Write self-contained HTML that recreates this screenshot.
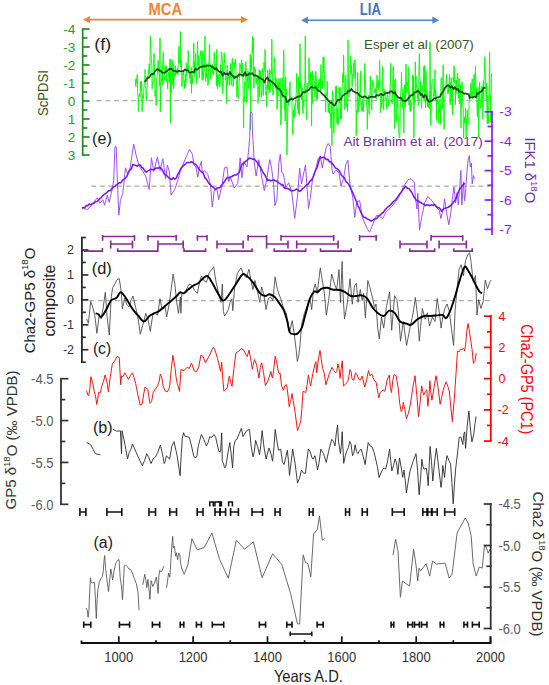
<!DOCTYPE html>
<html><head><meta charset="utf-8"><style>html,body{margin:0;padding:0;background:#fff;width:549px;height:685px;overflow:hidden}svg{display:block}text{font-family:"Liberation Sans",sans-serif}</style></head>
<body><svg width="549" height="685" viewBox="0 0 549 685" font-family='"Liberation Sans", sans-serif'><line x1="86" y1="19.7" x2="245" y2="19.7" stroke="#F08535" stroke-width="1.7"/><path d="M248,19.7 L241,16.099999999999998 L241,23.3 Z" fill="#F08535"/><path d="M83,19.7 L90,16.099999999999998 L90,23.3 Z" fill="#F08535"/>
<text x="165.3" y="14.8" font-size="15.8" fill="#F08535" text-anchor="middle" font-weight="bold" textLength="33.6" lengthAdjust="spacingAndGlyphs">MCA</text>
<line x1="304" y1="20.2" x2="436.3" y2="20.2" stroke="#5585C2" stroke-width="1.5"/><path d="M439.3,20.2 L432.3,16.599999999999998 L432.3,23.8 Z" fill="#5585C2"/><path d="M301,20.2 L308,16.599999999999998 L308,23.8 Z" fill="#5585C2"/>
<text x="370.4" y="15.1" font-size="17" fill="#4472C4" text-anchor="middle" font-weight="bold" textLength="21.1" lengthAdjust="spacingAndGlyphs">LIA</text>
<line x1="96.8" y1="100.6" x2="490" y2="100.6" stroke="#ABABAB" stroke-width="1.25" stroke-dasharray="5,3.6"/>
<text x="343.4" y="146.1" font-size="13.2" fill="#7030A0" text-anchor="start" font-weight="normal" textLength="139.5" lengthAdjust="spacingAndGlyphs">Ait Brahim et al. (2017)</text>
<text x="364.0" y="48.6" font-size="13.5" fill="#385723" text-anchor="start" font-weight="normal" textLength="109.8" lengthAdjust="spacingAndGlyphs">Esper et al. (2007)</text>
<path d="M135.4,79.5 L135.8,86.6 L136.1,78.4 L136.5,83.1 L136.9,77.6 L137.3,74.4 L137.6,92.5 L138.0,97.8 L138.4,111.5 L138.7,98.7 L139.1,95.0 L139.5,93.6 L139.9,93.9 L140.2,97.1 L140.6,81.5 L141.0,91.1 L141.3,80.9 L141.7,86.2 L142.1,111.7 L142.5,101.4 L142.8,94.6 L143.2,98.0 L143.6,95.8 L143.9,87.2 L144.3,81.8 L144.7,82.4 L145.1,69.3 L145.4,87.0 L145.8,88.6 L146.2,99.8 L146.6,100.8 L146.9,90.7 L147.3,83.9 L147.7,79.2 L148.0,75.3 L148.4,69.6 L148.8,74.6 L149.2,63.9 L149.5,70.3 L149.9,73.0 L150.3,36.0 L150.6,36.4 L151.0,52.3 L151.4,59.3 L151.8,65.6 L152.1,88.9 L152.5,85.5 L152.9,81.4 L153.2,68.2 L153.6,63.7 L154.0,53.1 L154.4,63.8 L154.7,81.4 L155.1,96.3 L155.5,90.2 L155.8,97.3 L156.2,105.6 L156.6,80.3 L157.0,77.1 L157.3,74.8 L157.7,69.1 L158.1,60.3 L158.4,62.8 L158.8,72.8 L159.2,73.2 L159.6,85.9 L160.0,38.0 L160.3,111.7 L160.7,83.9 L161.0,81.1 L161.4,81.3 L161.8,75.8 L162.2,65.2 L162.5,84.9 L162.9,57.4 L163.3,51.7 L163.6,61.6 L164.0,70.2 L164.4,80.4 L164.8,80.6 L165.1,66.2 L165.5,72.4 L165.9,71.8 L166.3,65.9 L166.6,79.8 L167.0,82.1 L167.4,79.3 L167.7,88.8 L168.1,76.9 L168.5,74.1 L168.9,71.7 L169.2,82.7 L169.6,72.1 L170.0,59.2 L170.4,123.3 L170.7,59.2 L171.1,92.8 L171.5,85.6 L171.8,71.1 L172.2,59.9 L172.6,74.9 L172.9,85.0 L173.3,63.7 L173.7,89.1 L174.1,73.0 L174.4,76.9 L174.8,74.3 L175.2,65.3 L175.5,75.2 L175.9,69.7 L176.3,73.2 L176.7,70.5 L177.0,73.6 L177.4,67.8 L177.8,75.3 L178.1,64.0 L178.5,63.3 L178.9,46.4 L179.3,63.3 L179.6,59.4 L180.0,63.3 L180.4,31.6 L180.7,67.1 L181.1,60.2 L181.5,63.6 L181.9,86.7 L182.2,82.8 L182.6,80.3 L183.0,72.4 L183.3,74.8 L183.7,71.9 L184.1,88.9 L184.5,87.4 L184.8,80.6 L185.2,87.8 L185.6,74.6 L186.0,82.8 L186.3,62.7 L186.7,75.7 L187.1,66.7 L187.4,70.3 L187.8,70.4 L188.2,50.6 L188.6,61.4 L188.9,72.3 L189.3,72.3 L189.7,78.1 L190.0,73.4 L190.4,82.1 L190.8,83.4 L191.2,67.0 L191.5,93.3 L191.9,75.3 L192.3,78.4 L192.6,83.5 L193.0,69.0 L193.4,60.7 L193.8,43.0 L194.1,68.1 L194.5,61.5 L194.9,76.8 L195.2,63.4 L195.6,53.3 L196.0,66.7 L196.4,74.9 L196.7,83.6 L197.1,63.0 L197.5,41.2 L197.8,52.7 L198.2,66.3 L198.6,55.6 L199.0,72.2 L199.3,78.0 L199.7,70.1 L200.1,56.6 L200.4,56.7 L200.8,50.4 L201.2,55.7 L201.6,59.5 L201.9,75.4 L202.3,80.4 L202.7,50.9 L203.0,63.8 L203.4,79.4 L203.8,73.0 L204.2,67.0 L204.5,62.6 L205.0,36.0 L205.3,74.9 L205.7,81.6 L206.0,73.7 L206.4,77.3 L206.8,63.4 L207.1,72.9 L207.5,74.0 L207.9,85.3 L208.3,84.9 L208.6,63.1 L209.0,63.4 L209.4,44.3 L209.7,45.3 L210.1,79.3 L210.5,77.6 L210.9,68.4 L211.2,67.4 L211.6,72.4 L212.0,71.4 L212.3,63.8 L212.7,73.3 L213.1,71.4 L213.5,75.2 L213.8,70.6 L214.2,52.4 L214.6,60.2 L214.9,66.9 L215.3,70.0 L215.7,64.1 L216.1,64.4 L216.4,85.8 L216.8,49.3 L217.2,85.8 L217.5,89.1 L217.9,74.6 L218.3,84.6 L218.7,77.1 L219.0,73.9 L219.4,78.7 L219.8,87.2 L220.1,82.5 L220.5,64.7 L220.9,72.7 L221.3,51.8 L221.6,52.0 L222.0,55.2 L222.4,63.4 L222.7,93.6 L223.1,88.6 L223.5,71.1 L223.9,66.4 L224.2,52.6 L224.6,63.1 L225.0,64.7 L225.4,80.2 L225.7,77.9 L226.1,79.1 L226.5,103.4 L226.8,80.7 L227.2,64.8 L227.6,85.2 L228.0,79.1 L228.3,78.7 L228.7,75.8 L229.1,74.2 L229.4,85.3 L229.8,75.9 L230.2,78.4 L230.6,63.4 L230.9,64.5 L231.3,85.3 L231.7,79.5 L232.0,62.0 L232.4,58.2 L232.8,74.3 L233.2,86.6 L233.5,79.3 L233.9,76.4 L234.3,62.4 L234.6,67.5 L235.0,64.4 L235.4,58.9 L235.8,67.4 L236.1,74.0 L236.5,85.7 L236.9,96.8 L237.2,86.4 L237.6,77.6 L238.0,98.5 L238.4,97.9 L238.7,94.9 L239.1,83.5 L239.5,77.0 L239.8,63.3 L240.2,64.5 L240.6,66.2 L241.0,71.4 L241.3,76.5 L241.7,59.9 L242.1,73.0 L242.4,63.5 L242.8,63.2 L243.2,96.6 L243.6,128.0 L243.9,97.6 L244.3,101.5 L244.7,82.2 L245.1,85.1 L245.4,66.3 L245.8,61.5 L246.2,68.0 L246.5,102.5 L246.9,92.1 L247.3,84.0 L247.7,75.3 L248.0,70.9 L248.4,86.9 L248.8,89.1 L249.1,72.5 L249.5,82.3 L249.9,77.3 L250.3,54.0 L250.5,130.0 L251.0,56.9 L251.4,57.4 L251.7,69.5 L252.1,52.0 L252.5,36.0 L252.9,53.3 L253.2,37.7 L253.6,75.1 L254.0,88.2 L254.3,69.2 L254.7,66.8 L255.1,71.7 L255.5,69.0 L255.8,80.9 L256.2,83.3 L256.6,78.4 L256.9,83.7 L257.3,76.3 L257.7,80.9 L258.1,103.4 L258.4,76.7 L258.8,80.4 L259.2,69.6 L259.5,96.9 L259.9,77.6 L260.3,70.6 L260.7,83.2 L261.0,86.4 L261.4,97.4 L261.8,96.5 L262.1,74.9 L262.5,68.1 L262.9,75.8 L263.3,95.4 L263.6,84.4 L264.0,62.0 L264.4,65.1 L264.8,70.7 L265.1,49.5 L265.5,77.6 L265.9,95.1 L266.2,91.7 L266.6,106.8 L267.0,84.9 L267.4,89.7 L267.7,69.8 L268.1,75.8 L268.5,89.2 L268.8,78.4 L269.2,93.2 L269.6,68.9 L270.0,92.0 L270.3,81.6 L270.7,85.4 L271.1,70.8 L271.4,74.0 L271.8,39.2 L272.2,64.5 L272.6,86.5 L272.9,95.0 L273.3,93.3 L273.7,89.9 L274.0,79.2 L274.4,57.6 L274.8,57.1 L275.2,74.8 L275.5,88.6 L275.9,79.8 L276.3,78.0 L276.6,92.7 L277.0,109.4 L277.4,104.7 L277.8,82.8 L278.1,95.9 L278.5,86.2 L278.9,78.5 L279.2,85.1 L279.6,91.6 L280.0,78.7 L280.4,78.7 L280.7,125.0 L281.1,123.6 L281.5,109.2 L281.8,97.1 L282.2,77.7 L282.6,81.5 L283.0,97.5 L283.3,68.9 L283.7,50.2 L284.1,67.0 L284.5,110.7 L284.8,101.5 L285.2,121.1 L285.6,76.7 L285.9,94.6 L286.3,89.2 L286.7,117.5 L286.9,155.0 L287.4,129.9 L287.8,107.3 L288.2,102.6 L288.5,99.5 L288.9,105.0 L289.3,99.8 L289.7,87.2 L290.0,81.5 L290.4,100.2 L290.8,98.8 L291.1,97.5 L291.5,100.0 L291.9,96.7 L292.3,119.7 L292.6,125.5 L293.0,134.6 L293.4,110.3 L293.7,109.8 L294.1,116.9 L294.5,105.5 L294.9,117.6 L295.2,103.4 L295.6,105.3 L296.0,96.0 L296.3,90.8 L296.7,73.5 L297.1,90.7 L297.5,108.9 L297.8,101.9 L298.2,113.5 L298.6,76.7 L298.9,99.2 L299.3,114.7 L299.7,89.3 L300.0,44.0 L300.4,88.5 L300.8,81.6 L301.2,87.5 L301.5,99.8 L301.9,88.1 L302.3,87.6 L302.7,108.0 L303.0,113.7 L303.4,100.2 L303.8,106.0 L304.2,90.9 L304.5,87.3 L304.9,80.7 L305.3,36.0 L305.6,83.2 L306.0,98.9 L306.4,118.2 L306.8,119.5 L307.1,83.2 L307.5,93.0 L307.9,86.3 L308.2,86.2 L308.6,86.6 L309.0,57.9 L309.4,74.1 L309.7,80.4 L310.1,84.6 L310.5,72.7 L310.8,85.5 L311.2,72.1 L311.6,125.8 L312.0,84.9 L312.3,103.5 L312.7,70.9 L313.1,80.0 L313.4,75.8 L313.8,75.0 L314.2,80.3 L314.6,91.2 L314.9,97.4 L315.3,97.5 L315.7,71.3 L316.0,73.5 L316.4,81.2 L316.8,100.2 L317.2,85.3 L317.5,99.0 L317.9,84.1 L318.3,90.0 L318.6,83.9 L319.0,79.2 L319.4,86.3 L319.8,84.7 L320.1,78.4 L320.5,92.5 L320.9,64.8 L321.2,84.8 L321.6,80.7 L322.0,80.9 L322.4,88.7 L322.7,73.7 L323.1,57.1 L323.5,73.1 L323.9,56.8 L324.2,69.1 L324.6,79.9 L325.0,92.6 L325.3,99.0 L325.7,112.1 L326.1,93.2 L326.5,95.9 L326.8,94.8 L327.2,81.3 L327.6,96.2 L327.9,100.0 L328.3,112.5 L328.7,103.7 L329.1,109.9 L329.4,113.1 L329.8,101.7 L330.2,113.8 L330.5,113.0 L330.9,127.9 L331.3,117.9 L331.7,101.0 L331.9,145.5 L332.4,95.6 L332.8,90.5 L333.1,95.5 L333.5,114.6 L333.9,133.1 L334.3,112.9 L334.6,113.8 L335.0,103.9 L335.4,101.1 L335.7,86.4 L336.1,100.5 L336.5,85.8 L336.9,123.3 L337.2,108.5 L337.6,118.9 L338.0,125.3 L338.3,117.8 L338.7,122.8 L339.1,87.2 L339.5,101.7 L339.8,103.6 L340.2,87.4 L340.6,118.8 L341.0,111.5 L341.3,119.2 L341.7,101.0 L342.1,90.8 L342.4,83.2 L342.8,73.2 L343.2,82.7 L343.6,55.2 L343.9,70.7 L344.3,92.4 L344.7,109.7 L345.0,105.4 L345.4,75.5 L345.8,74.7 L346.2,84.6 L346.5,106.9 L346.9,103.8 L347.3,104.1 L347.6,111.4 L348.0,40.0 L348.4,79.8 L348.8,91.9 L349.1,96.9 L349.5,90.2 L349.9,71.0 L350.2,71.7 L350.6,56.3 L351.0,74.2 L351.4,65.3 L351.7,69.9 L352.1,87.2 L352.5,76.2 L352.8,74.7 L353.2,76.0 L353.6,63.1 L354.0,78.0 L354.3,66.1 L354.7,59.9 L355.1,60.3 L355.4,67.5 L355.8,87.5 L356.2,135.6 L356.6,124.5 L356.9,110.6 L357.3,113.0 L357.7,72.6 L358.0,91.5 L358.4,112.3 L358.8,101.7 L359.2,96.0 L359.5,92.2 L359.9,106.6 L360.3,87.6 L360.7,71.1 L361.0,100.4 L361.4,101.2 L361.8,111.4 L362.1,108.8 L362.5,110.7 L362.9,98.3 L363.3,111.6 L363.6,110.3 L364.0,96.4 L364.4,91.9 L364.7,63.3 L365.1,71.7 L365.5,83.0 L365.9,93.8 L366.2,98.3 L366.6,104.4 L367.0,108.6 L367.3,129.4 L367.7,113.0 L368.1,97.3 L368.5,104.6 L368.8,94.9 L369.2,114.1 L369.6,98.6 L369.9,97.4 L370.3,76.2 L370.7,89.6 L371.1,87.4 L371.4,106.2 L371.8,110.2 L372.2,88.8 L372.5,79.8 L372.9,86.9 L373.3,85.9 L373.7,86.3 L374.0,89.2 L374.4,93.0 L374.8,91.8 L375.1,89.6 L375.5,88.5 L375.9,97.9 L376.3,99.1 L376.6,86.9 L377.0,75.2 L377.4,86.1 L377.7,87.9 L378.1,82.3 L378.5,90.3 L378.9,79.9 L379.2,86.1 L379.6,60.4 L380.0,76.5 L380.4,112.7 L380.7,109.4 L381.1,98.0 L381.5,94.3 L381.8,107.7 L382.2,95.4 L382.6,66.4 L383.0,74.2 L383.3,96.1 L383.7,110.0 L384.1,88.9 L384.4,94.0 L384.8,91.6 L385.2,96.3 L385.6,96.8 L385.9,99.7 L386.3,98.4 L386.7,109.0 L387.0,98.0 L387.4,93.0 L387.8,95.6 L388.2,100.1 L388.5,106.0 L388.9,100.3 L389.3,96.0 L389.6,94.6 L390.0,87.6 L390.4,80.8 L390.8,63.2 L391.1,102.2 L391.5,99.9 L391.9,100.6 L392.2,103.7 L392.6,88.6 L393.0,67.3 L393.4,66.3 L393.7,95.0 L394.1,80.2 L394.5,103.5 L394.8,128.7 L395.2,82.6 L395.6,78.7 L396.0,111.9 L396.3,122.3 L396.7,113.8 L397.1,97.1 L397.4,108.2 L397.8,102.0 L398.2,119.1 L398.6,119.2 L398.9,133.3 L399.3,138.0 L399.7,138.0 L400.1,123.2 L400.4,100.0 L400.8,91.2 L401.2,87.4 L401.5,72.5 L401.9,90.0 L402.3,93.9 L402.7,108.2 L403.0,88.8 L403.4,108.7 L403.8,133.1 L404.1,117.0 L404.5,85.1 L404.9,87.0 L405.3,107.3 L405.6,80.1 L406.0,64.1 L406.4,92.4 L406.7,93.3 L407.1,82.2 L407.5,86.0 L407.9,83.6 L408.2,66.3 L408.6,91.3 L409.0,105.1 L409.3,91.1 L409.7,91.6 L410.1,111.9 L410.5,101.5 L410.8,103.8 L411.2,110.3 L411.6,106.6 L411.9,102.2 L412.3,98.2 L412.7,74.6 L413.1,97.1 L413.4,76.1 L413.9,138.0 L414.2,111.4 L414.5,91.6 L414.9,103.2 L415.3,61.9 L415.7,90.8 L416.0,75.9 L416.4,87.3 L416.8,85.7 L417.1,87.1 L417.5,99.0 L417.9,88.5 L418.3,105.7 L418.6,102.2 L419.0,64.6 L419.4,53.4 L419.8,76.3 L420.1,80.7 L420.5,95.5 L420.9,81.4 L421.2,102.5 L421.6,108.4 L422.0,94.6 L422.4,94.2 L422.7,85.2 L423.1,86.7 L423.5,83.5 L423.8,66.3 L424.2,100.8 L424.6,65.6 L425.0,73.5 L425.3,75.6 L425.7,107.7 L426.1,70.9 L426.4,99.9 L426.8,97.1 L427.2,89.9 L427.6,106.4 L427.9,99.3 L428.3,107.7 L428.7,103.7 L429.0,96.5 L429.4,91.5 L429.8,108.8 L430.0,42.0 L430.5,115.5 L430.9,125.7 L431.3,106.0 L431.6,90.9 L432.0,81.1 L432.4,80.1 L432.8,79.6 L433.1,79.0 L433.5,96.6 L433.9,94.8 L434.2,96.2 L434.6,85.8 L435.0,69.7 L435.4,100.4 L435.7,89.5 L436.1,94.6 L436.5,120.6 L436.8,99.5 L437.2,103.8 L437.6,100.6 L438.0,99.0 L438.3,123.4 L438.7,116.4 L439.1,99.6 L439.5,113.5 L439.8,112.3 L440.2,104.8 L440.6,124.4 L440.9,80.4 L441.3,77.6 L441.7,80.9 L442.1,91.3 L442.4,108.8 L442.8,80.3 L443.2,64.8 L443.5,94.8 L443.9,129.2 L444.3,127.0 L444.7,123.7 L445.0,90.2 L445.4,86.6 L445.8,87.7 L446.1,79.4 L446.5,74.4 L446.9,82.9 L447.3,90.4 L447.6,92.6 L448.0,94.1 L448.4,84.2 L448.7,92.2 L449.1,88.0 L449.5,74.0 L449.9,92.0 L450.2,104.8 L450.6,82.8 L451.0,93.0 L451.3,77.6 L451.7,100.0 L452.1,87.4 L452.5,114.8 L452.8,94.3 L453.2,77.2 L453.6,81.6 L453.9,65.9 L454.3,67.1 L454.7,83.0 L455.1,79.9 L455.4,104.8 L455.8,90.4 L456.2,93.5 L456.5,80.2 L456.9,90.8 L457.3,75.5 L457.7,73.2 L458.0,92.7 L458.4,98.4 L458.8,88.1 L459.2,78.2 L459.5,103.9 L459.9,100.2 L460.3,83.9 L460.6,90.3 L461.0,128.2 L461.4,102.9 L461.8,107.0 L462.1,81.9 L462.5,101.2 L462.9,103.2 L463.2,106.3 L463.6,138.0 L464.0,125.7 L464.4,120.5 L464.7,117.1 L465.1,123.0 L465.5,108.1 L465.8,126.6 L466.2,138.0 L466.6,119.2 L467.0,120.0 L467.3,109.7 L467.7,121.4 L468.1,124.5 L468.4,123.1 L468.8,122.4 L469.2,98.1 L469.6,96.6 L469.9,93.0 L470.3,97.6 L470.7,83.3 L471.0,85.2 L471.4,96.4 L471.8,91.0 L472.2,78.6 L472.5,98.7 L472.9,96.3 L473.3,97.7 L473.6,95.1 L474.0,74.1 L474.4,91.8 L474.8,95.1 L475.1,78.7 L475.5,66.1 L475.9,90.1 L476.2,97.6 L476.6,88.6 L477.0,105.6 L477.4,116.8 L477.7,99.5 L478.1,87.3 L478.5,97.5 L478.7,137.0 L479.2,99.8 L479.6,82.3 L480.0,93.6 L480.3,108.3 L480.7,106.3 L481.1,99.8 L481.5,101.5 L481.8,86.0 L482.2,89.1 L482.6,103.6 L482.9,118.8 L483.3,80.8 L483.7,98.8 L484.1,79.4 L484.4,72.1 L484.8,56.9 L485.2,69.9 L485.5,78.6 L485.9,94.1 L486.3,99.9 L486.7,83.0 L487.0,119.6 L487.4,124.0 L487.8,95.3 L488.1,114.9 L488.5,123.3 L488.9,113.7 L489.3,70.7 L489.6,52.0 L490.0,101.0 L490.4,95.1 L490.7,122.1 L491.1,101.8 L491.5,73.2" fill="none" stroke="#00FF00" stroke-width="0.92" stroke-linejoin="round"/>
<path d="M144.4,81.1 L145.9,80.8 L147.4,77.5 L148.9,77.9 L150.4,75.4 L151.9,73.9 L153.4,74.4 L154.9,71.4 L156.4,69.8 L157.9,69.1 L159.4,70.6 L160.9,70.9 L162.4,72.8 L163.9,72.6 L165.4,72.3 L166.9,71.4 L168.4,69.7 L169.9,68.7 L171.4,68.9 L172.9,70.5 L174.4,70.9 L175.9,71.2 L177.4,71.9 L178.9,70.6 L180.4,71.3 L181.9,71.2 L183.4,71.2 L184.9,69.4 L186.4,70.4 L187.9,70.1 L189.4,72.7 L190.9,72.4 L192.4,71.8 L193.9,72.7 L195.4,68.4 L196.9,69.9 L198.4,68.6 L199.9,67.2 L201.4,67.0 L202.9,66.2 L204.4,66.7 L205.9,65.7 L207.4,65.5 L208.9,65.6 L210.4,65.7 L211.9,67.2 L213.4,67.2 L214.9,69.5 L216.4,68.3 L217.9,70.4 L219.4,72.0 L220.9,71.6 L222.4,75.8 L223.9,72.5 L225.4,74.4 L226.9,73.4 L228.4,74.9 L229.9,71.8 L231.4,74.9 L232.9,75.7 L234.4,78.0 L235.9,76.6 L237.4,76.9 L238.9,74.3 L240.4,74.6 L241.9,74.8 L243.4,76.0 L244.9,72.1 L246.4,75.5 L247.9,74.8 L249.4,73.4 L250.9,74.0 L252.4,73.1 L253.9,75.6 L255.4,75.3 L256.9,75.9 L258.4,76.9 L259.9,77.9 L261.4,78.9 L262.9,79.3 L264.4,82.5 L265.9,78.9 L267.4,77.4 L268.9,80.5 L270.4,80.5 L271.9,82.1 L273.4,83.1 L274.9,84.7 L276.4,86.6 L277.9,88.7 L279.4,89.0 L280.9,91.0 L282.4,95.2 L283.9,96.2 L285.4,97.0 L286.9,102.2 L288.4,101.2 L289.9,99.6 L291.4,98.7 L292.9,99.7 L294.4,98.3 L295.9,97.7 L297.4,96.8 L298.9,96.3 L300.4,96.5 L301.9,93.9 L303.4,91.8 L304.9,92.5 L306.4,90.8 L307.9,90.2 L309.4,89.4 L310.9,86.9 L312.4,87.3 L313.9,87.8 L315.4,87.2 L316.9,89.3 L318.4,90.7 L319.9,91.4 L321.4,92.8 L322.9,94.5 L324.4,95.8 L325.9,97.5 L327.4,99.6 L328.9,101.0 L330.4,102.8 L331.9,102.6 L333.4,105.1 L334.9,105.3 L336.4,102.5 L337.9,99.7 L339.4,100.0 L340.9,99.3 L342.4,96.0 L343.9,94.9 L345.4,93.6 L346.9,93.4 L348.4,90.7 L349.9,91.1 L351.4,88.8 L352.9,91.2 L354.4,91.6 L355.9,92.7 L357.4,92.8 L358.9,94.8 L360.4,96.1 L361.9,97.1 L363.4,96.9 L364.9,96.3 L366.4,97.5 L367.9,98.2 L369.4,97.3 L370.9,96.8 L372.4,96.5 L373.9,97.2 L375.4,96.6 L376.9,94.9 L378.4,95.7 L379.9,94.6 L381.4,93.9 L382.9,95.2 L384.4,94.4 L385.9,92.6 L387.4,92.9 L388.9,92.8 L390.4,91.3 L391.9,91.3 L393.4,93.2 L394.9,92.2 L396.4,95.4 L397.9,97.0 L399.4,98.1 L400.9,97.6 L402.4,100.4 L403.9,100.6 L405.4,101.3 L406.9,100.0 L408.4,98.4 L409.9,96.2 L411.4,95.1 L412.9,95.1 L414.4,92.3 L415.9,92.3 L417.4,91.0 L418.9,91.0 L420.4,94.8 L421.9,94.1 L423.4,97.4 L424.9,95.1 L426.4,96.3 L427.9,100.6 L429.4,101.7 L430.9,101.0 L432.4,100.5 L433.9,98.1 L435.4,98.5 L436.9,97.4 L438.4,97.4 L439.9,96.6 L441.4,93.7 L442.9,91.8 L444.4,88.7 L445.9,86.8 L447.4,85.3 L448.9,85.5 L450.4,87.5 L451.9,86.1 L453.4,89.1 L454.9,87.1 L456.4,89.7 L457.9,88.9 L459.4,91.9 L460.9,91.4 L462.4,92.5 L463.9,93.7 L465.4,93.4 L466.9,94.0 L468.4,94.2 L469.9,98.1 L471.4,97.3 L472.9,97.1 L474.4,96.5 L475.9,97.3 L477.4,92.9 L478.9,93.5 L480.4,91.6 L481.9,91.2 L483.4,87.8 L484.9,87.8 L485.4,87.7" fill="none" stroke="#0A3A0A" stroke-width="1.75" stroke-opacity="0.9" stroke-linejoin="round"/>
<line x1="82.7" y1="28.4" x2="82.7" y2="155.6" stroke="#1E8C1E" stroke-width="1.7"/><line x1="82" y1="29.0" x2="89.6" y2="29.0" stroke="#1E8C1E" stroke-width="1.7"/><line x1="82" y1="38.0" x2="87.3" y2="38.0" stroke="#1E8C1E" stroke-width="1.7"/><text x="75.3" y="33.9" font-size="13.6" fill="#2E9A2E" text-anchor="end" font-weight="normal">-4</text><line x1="82" y1="47.0" x2="89.6" y2="47.0" stroke="#1E8C1E" stroke-width="1.7"/><line x1="82" y1="56.0" x2="87.3" y2="56.0" stroke="#1E8C1E" stroke-width="1.7"/><text x="75.3" y="51.9" font-size="13.6" fill="#2E9A2E" text-anchor="end" font-weight="normal">-3</text><line x1="82" y1="65.0" x2="89.6" y2="65.0" stroke="#1E8C1E" stroke-width="1.7"/><line x1="82" y1="74.0" x2="87.3" y2="74.0" stroke="#1E8C1E" stroke-width="1.7"/><text x="75.3" y="69.9" font-size="13.6" fill="#2E9A2E" text-anchor="end" font-weight="normal">-2</text><line x1="82" y1="83.0" x2="89.6" y2="83.0" stroke="#1E8C1E" stroke-width="1.7"/><line x1="82" y1="92.0" x2="87.3" y2="92.0" stroke="#1E8C1E" stroke-width="1.7"/><text x="75.3" y="87.9" font-size="13.6" fill="#2E9A2E" text-anchor="end" font-weight="normal">-1</text><line x1="82" y1="101.0" x2="89.6" y2="101.0" stroke="#1E8C1E" stroke-width="1.7"/><line x1="82" y1="110.0" x2="87.3" y2="110.0" stroke="#1E8C1E" stroke-width="1.7"/><text x="75.3" y="105.9" font-size="13.6" fill="#2E9A2E" text-anchor="end" font-weight="normal">0</text><line x1="82" y1="119.0" x2="89.6" y2="119.0" stroke="#1E8C1E" stroke-width="1.7"/><line x1="82" y1="128.0" x2="87.3" y2="128.0" stroke="#1E8C1E" stroke-width="1.7"/><text x="75.3" y="123.9" font-size="13.6" fill="#2E9A2E" text-anchor="end" font-weight="normal">1</text><line x1="82" y1="137.0" x2="89.6" y2="137.0" stroke="#1E8C1E" stroke-width="1.7"/><line x1="82" y1="146.0" x2="87.3" y2="146.0" stroke="#1E8C1E" stroke-width="1.7"/><text x="75.3" y="141.9" font-size="13.6" fill="#2E9A2E" text-anchor="end" font-weight="normal">2</text><line x1="82" y1="155.0" x2="89.6" y2="155.0" stroke="#1E8C1E" stroke-width="1.7"/><text x="75.3" y="159.9" font-size="13.6" fill="#2E9A2E" text-anchor="end" font-weight="normal">3</text>
<text transform="translate(42.7,93) rotate(-90)" x="0" y="0" font-size="15" fill="#385723" text-anchor="middle" dominant-baseline="central" textLength="46" lengthAdjust="spacingAndGlyphs">ScPDSI</text>
<text x="94.3" y="49.7" font-size="16" fill="#1a1a1a" text-anchor="start" font-weight="normal" textLength="16.8" lengthAdjust="spacingAndGlyphs">(f)</text>
<line x1="91.3" y1="186" x2="490" y2="186" stroke="#ABABAB" stroke-width="1.25" stroke-dasharray="5,3.6"/>
<path d="M82.7,207.9 L87.3,209.7 L90.0,207.0 L93.7,202.4 L97.3,197.8 L100.0,203.3 L102.8,199.7 L104.6,205.1 L107.3,195.1 L109.1,202.4 L111.9,190.6 L113.7,180.5 L114.9,147.5 L115.6,146.0 L116.3,148.0 L117.0,171.4 L118.8,215.1 L120.4,200.6 L122.8,193.3 L125.5,167.8 L127.7,174.2 L130.1,167.8 L133.7,144.1 L136.5,156.9 L139.2,166.0 L142.8,171.4 L145.6,176.0 L149.2,189.6 L151.4,157.8 L153.8,171.4 L157.4,156.9 L160.1,170.5 L162.9,158.7 L165.6,178.7 L167.4,165.1 L169.3,171.4 L171.1,195.1 L174.7,189.6 L177.7,180.6 L180.5,170.6 L185.0,159.6 L189.6,149.3 L192.3,154.2 L194.1,165.1 L195.9,166.9 L197.8,177.0 L199.6,166.9 L201.4,161.5 L202.3,173.3 L204.1,170.6 L207.8,174.2 L210.5,185.1 L212.3,207.0 L214.2,190.6 L216.9,188.8 L218.7,199.7 L222.0,185.1 L224.5,167.8 L226.9,166.9 L228.7,181.5 L230.6,177.9 L234.2,187.9 L237.8,183.3 L240.2,157.8 L242.0,177.9 L243.9,161.5 L247.0,166.9 L249.7,137.8 L250.3,113.5 L251.1,112.0 L252.0,113.5 L252.6,135.0 L253.0,139.6 L254.2,161.5 L256.1,176.0 L258.8,159.6 L261.5,176.0 L264.3,190.6 L267.0,177.9 L269.7,159.6 L271.6,168.1 L273.6,183.9 L274.9,205.6 L276.9,199.7 L278.9,162.2 L280.3,154.3 L281.8,172.1 L283.4,174.0 L285.8,187.8 L288.7,182.9 L291.7,191.8 L294.7,218.4 L297.6,195.7 L299.6,168.1 L301.6,183.9 L303.9,172.1 L305.5,165.2 L308.5,208.6 L310.4,197.7 L312.4,180.0 L315.4,170.1 L318.3,158.3 L320.3,156.3 L322.3,168.1 L324.2,157.3 L326.2,147.4 L328.2,143.5 L330.2,146.4 L332.1,170.1 L333.1,174.0 L336.1,170.1 L339.0,173.0 L341.0,185.9 L343.4,179.0 L345.9,164.2 L347.9,160.2 L349.9,183.9 L352.8,197.7 L354.8,217.4 L356.8,201.6 L359.7,200.7 L362.3,217.4 L364.7,223.3 L367.6,229.3 L369.6,232.2 L371.3,228.0 L373.4,222.7 L376.5,215.4 L379.7,216.5 L382.8,218.5 L385.9,212.3 L392.2,206.0 L398.5,197.6 L403.8,186.1 L407.9,179.8 L411.1,178.8 L414.2,181.9 L415.3,196.6 L417.0,209.1 L417.8,193.4 L419.5,230.1 L421.6,217.5 L424.7,202.8 L427.8,196.6 L432.0,200.7 L436.2,207.0 L439.4,210.2 L440.8,218.5 L443.5,208.1 L444.6,198.7 L446.7,213.3 L448.8,224.8 L450.9,212.3 L452.6,196.6 L454.0,187.1 L455.5,202.8 L457.2,192.4 L458.2,204.9 L459.7,188.2 L460.9,170.4 L461.8,204.9 L463.5,181.9 L464.5,200.7 L465.5,192.4 L466.6,176.7 L468.1,159.9 L469.3,155.7 L470.4,167.2 L471.4,163.0 L472.2,184.0 L473.5,175.6 L474.3,178.8" fill="none" stroke="#9A48F2" stroke-width="0.95" stroke-linejoin="round"/>
<path d="M81.8,208.2 L83.3,207.5 L84.8,207.6 L86.3,205.4 L87.8,205.7 L89.3,203.9 L90.8,204.8 L92.3,203.6 L93.8,203.4 L95.3,201.8 L96.8,201.5 L98.3,200.4 L99.8,198.6 L101.3,197.6 L102.8,195.4 L104.3,194.3 L105.8,193.4 L107.3,192.0 L108.8,190.6 L110.3,190.8 L111.8,188.6 L113.3,187.1 L114.8,186.4 L116.3,184.9 L117.8,183.9 L119.3,182.8 L120.8,182.8 L122.3,180.5 L123.8,179.3 L125.3,178.3 L126.8,176.6 L128.3,172.8 L129.8,170.0 L131.3,169.0 L132.8,164.4 L134.3,164.9 L135.8,165.4 L137.3,166.2 L138.8,164.9 L140.3,165.1 L141.8,167.5 L143.3,168.3 L144.8,170.8 L146.3,172.1 L147.8,171.1 L149.3,170.2 L150.8,169.2 L152.3,169.8 L153.8,169.5 L155.3,168.5 L156.8,167.9 L158.3,168.2 L159.8,167.3 L161.3,168.3 L162.8,171.0 L164.3,174.1 L165.8,175.1 L167.3,176.2 L168.8,177.8 L170.3,178.9 L171.8,179.4 L173.3,177.9 L174.8,179.2 L176.3,178.0 L177.8,174.4 L179.3,172.0 L180.8,168.6 L182.3,166.7 L183.8,165.4 L185.3,164.2 L186.8,162.5 L188.3,162.6 L189.8,162.7 L191.3,161.7 L192.8,162.5 L194.3,163.9 L195.8,164.3 L197.3,166.7 L198.8,169.2 L200.3,170.7 L201.8,172.1 L203.3,173.1 L204.8,177.6 L206.3,179.1 L207.8,181.6 L209.3,183.9 L210.8,185.2 L212.3,186.7 L213.8,187.6 L215.3,189.7 L216.8,188.0 L218.3,188.0 L219.8,187.5 L221.3,185.9 L222.8,183.9 L224.3,181.8 L225.8,179.5 L227.3,177.4 L228.8,178.0 L230.3,177.0 L231.8,176.5 L233.3,175.5 L234.8,174.9 L236.3,175.0 L237.8,173.7 L239.3,172.2 L240.8,167.6 L242.3,163.7 L243.8,163.3 L245.3,161.5 L246.8,160.6 L248.3,159.0 L249.8,158.0 L251.3,158.4 L252.8,159.3 L254.3,159.0 L255.8,160.8 L257.3,162.5 L258.8,165.3 L260.3,166.9 L261.8,169.8 L263.3,173.0 L264.8,174.8 L266.3,177.8 L267.8,180.5 L269.3,179.9 L270.8,180.7 L272.3,180.3 L273.8,179.8 L275.3,180.9 L276.8,181.1 L278.3,182.6 L279.8,183.4 L281.3,184.8 L282.8,184.6 L284.3,187.8 L285.8,188.5 L287.3,188.4 L288.8,188.9 L290.3,190.1 L291.8,191.1 L293.3,190.6 L294.8,190.2 L296.3,189.0 L297.8,189.7 L299.3,191.2 L300.8,190.8 L302.3,188.7 L303.8,187.8 L305.3,186.3 L306.8,184.8 L308.3,184.0 L309.8,181.4 L311.3,180.2 L312.8,177.8 L314.3,173.7 L315.8,169.8 L317.3,167.0 L318.8,161.2 L320.3,156.8 L321.8,157.9 L323.3,157.3 L324.8,157.8 L326.3,159.7 L327.8,159.2 L329.3,161.5 L330.8,162.3 L332.3,163.6 L333.8,165.4 L335.3,167.9 L336.8,168.7 L338.3,169.7 L339.8,171.9 L341.3,175.1 L342.8,176.8 L344.3,177.6 L345.8,181.6 L347.3,182.6 L348.8,184.6 L350.3,187.6 L351.8,190.6 L353.3,194.0 L354.8,197.8 L356.3,201.2 L357.8,205.3 L359.3,208.2 L360.8,212.2 L362.3,215.2 L363.8,217.2 L365.3,217.4 L366.8,218.7 L368.3,219.4 L369.8,220.2 L371.3,221.1 L372.8,220.2 L374.3,219.1 L375.8,219.0 L377.3,217.8 L378.8,215.6 L380.3,215.0 L381.8,213.4 L383.3,212.5 L384.8,210.1 L386.3,208.6 L387.8,206.9 L389.3,205.8 L390.8,204.5 L392.3,202.9 L393.8,201.1 L395.3,200.1 L396.8,198.2 L398.3,196.3 L399.8,193.7 L401.3,192.2 L402.8,189.6 L404.3,187.7 L405.8,186.2 L407.3,188.2 L408.8,188.6 L410.3,190.3 L411.8,192.5 L413.3,195.5 L414.8,198.0 L416.3,200.3 L417.8,200.6 L419.3,201.8 L420.8,202.5 L422.3,203.6 L423.8,204.3 L425.3,205.6 L426.8,204.8 L428.3,205.0 L429.8,205.7 L431.3,204.8 L432.8,205.3 L434.3,204.4 L435.8,205.9 L437.3,207.4 L438.8,207.7 L440.3,209.0 L441.8,211.3 L443.3,209.1 L444.8,208.4 L446.3,207.8 L447.8,207.5 L449.3,206.5 L450.8,205.5 L452.3,203.9 L453.8,201.8 L455.3,200.0 L456.8,195.9 L458.3,192.2 L459.8,189.0 L461.3,187.3 L462.8,185.1 L464.3,183.6 L464.5,182.9" fill="none" stroke="#7A14F5" stroke-width="1.55" stroke-linejoin="round"/>
<line x1="492.0" y1="111.0" x2="492.0" y2="234.9" stroke="#8A1CFF" stroke-width="1.7"/><line x1="484.6" y1="111.8" x2="492.8" y2="111.8" stroke="#8A1CFF" stroke-width="1.7"/><line x1="487.5" y1="126.5" x2="492.8" y2="126.5" stroke="#8A1CFF" stroke-width="1.7"/><text x="499.3" y="116.39999999999999" font-size="12.8" fill="#8A1CFF" text-anchor="start" font-weight="normal" textLength="12.4" lengthAdjust="spacingAndGlyphs">-3</text><line x1="484.6" y1="141.2" x2="492.8" y2="141.2" stroke="#8A1CFF" stroke-width="1.7"/><line x1="487.5" y1="155.89999999999998" x2="492.8" y2="155.89999999999998" stroke="#8A1CFF" stroke-width="1.7"/><text x="499.3" y="145.79999999999998" font-size="12.8" fill="#8A1CFF" text-anchor="start" font-weight="normal" textLength="12.4" lengthAdjust="spacingAndGlyphs">-4</text><line x1="484.6" y1="170.6" x2="492.8" y2="170.6" stroke="#8A1CFF" stroke-width="1.7"/><line x1="487.5" y1="185.29999999999998" x2="492.8" y2="185.29999999999998" stroke="#8A1CFF" stroke-width="1.7"/><text x="499.3" y="175.2" font-size="12.8" fill="#8A1CFF" text-anchor="start" font-weight="normal" textLength="12.4" lengthAdjust="spacingAndGlyphs">-5</text><line x1="484.6" y1="200.0" x2="492.8" y2="200.0" stroke="#8A1CFF" stroke-width="1.7"/><line x1="487.5" y1="214.7" x2="492.8" y2="214.7" stroke="#8A1CFF" stroke-width="1.7"/><text x="499.3" y="204.6" font-size="12.8" fill="#8A1CFF" text-anchor="start" font-weight="normal" textLength="12.4" lengthAdjust="spacingAndGlyphs">-6</text><line x1="484.6" y1="229.39999999999998" x2="492.8" y2="229.39999999999998" stroke="#8A1CFF" stroke-width="1.7"/><text x="499.3" y="233.99999999999997" font-size="12.8" fill="#8A1CFF" text-anchor="start" font-weight="normal" textLength="12.4" lengthAdjust="spacingAndGlyphs">-7</text>
<text transform="translate(529.7,170.3) rotate(90)" x="0" y="0" font-size="14.8" fill="#7030A0" text-anchor="middle" dominant-baseline="central">IFK1 δ<tspan font-size="9.5" dy="-5">18</tspan><tspan dy="5">O</tspan></text>
<text x="92.1" y="144.2" font-size="16" fill="#1a1a1a" text-anchor="start" font-weight="normal" textLength="19.7" lengthAdjust="spacingAndGlyphs">(e)</text>
<line x1="89.1" y1="300.5" x2="490" y2="300.5" stroke="#ABABAB" stroke-width="1.25" stroke-dasharray="5,3.6"/>
<path d="M86.6,318.8 L88.4,323.3 L90.7,301.4 L92.9,307.8 L94.8,315.1 L96.9,333.3 L99.3,315.1 L101.1,318.8 L102.9,309.6 L105.3,292.3 L107.1,316.9 L109.3,335.1 L111.1,298.7 L112.6,287.8 L114.8,284.1 L117.0,279.6 L119.3,278.7 L121.2,291.4 L122.4,308.7 L124.8,297.8 L126.6,304.2 L129.0,306.9 L131.2,299.6 L133.0,296.0 L135.7,307.8 L137.6,315.1 L140.3,334.2 L143.0,324.2 L145.8,313.3 L147.9,318.8 L150.3,331.5 L152.7,315.1 L154.9,313.3 L157.6,315.1 L160.0,298.7 L162.1,309.6 L164.9,306.0 L166.7,316.9 L169.1,304.2 L170.9,291.4 L173.1,274.1 L174.9,284.1 L176.7,302.4 L178.5,313.3 L180.4,296.9 L180.9,313.3 L181.8,294.2 L185.5,291.4 L189.1,284.1 L191.8,285.1 L194.6,290.5 L197.3,293.3 L200.0,280.5 L201.5,275.9 L203.7,280.5 L206.4,282.3 L209.1,273.2 L213.7,266.8 L216.1,282.3 L218.6,293.3 L221.0,302.4 L222.3,284.1 L223.4,311.5 L224.6,316.0 L226.4,313.3 L228.3,309.6 L230.1,302.4 L231.9,298.7 L232.8,310.6 L234.6,287.8 L237.4,273.2 L241.0,267.8 L243.8,275.0 L246.5,277.8 L248.9,269.2 L251.0,280.5 L252.9,289.6 L255.0,280.5 L257.4,291.4 L259.8,302.4 L261.6,286.9 L263.8,294.2 L266.0,309.6 L268.3,298.7 L270.7,296.9 L272.9,300.5 L275.1,276.9 L277.4,289.6 L280.7,298.7 L283.5,307.8 L286.2,313.3 L288.0,322.4 L289.8,331.5 L292.2,320.6 L294.4,335.1 L296.2,350.0 L297.3,361.5 L298.8,355.0 L299.9,346.1 L301.7,324.2 L304.4,313.3 L307.1,306.0 L309.9,298.7 L311.7,309.6 L313.5,289.6 L315.3,284.1 L317.2,293.3 L320.3,267.8 L322.6,282.3 L324.4,293.3 L326.3,315.1 L328.6,300.5 L331.7,274.1 L334.5,284.1 L336.7,289.6 L339.0,269.6 L340.5,302.4 L342.1,261.4 L343.2,296.9 L344.5,318.8 L347.2,304.2 L350.0,278.7 L352.3,304.2 L354.5,286.0 L356.3,283.2 L358.1,302.4 L360.3,289.6 L362.2,300.5 L363.6,293.3 L365.4,317.8 L367.8,280.5 L370.0,287.8 L372.7,298.7 L374.5,307.8 L376.0,304.0 L377.7,328.1 L379.3,339.0 L381.5,317.1 L383.7,328.1 L386.5,306.2 L389.6,292.0 L391.7,330.2 L394.6,295.7 L396.8,299.6 L398.3,310.6 L400.5,341.2 L403.3,321.5 L406.6,345.5 L409.9,328.1 L413.2,312.8 L415.3,297.5 L417.5,314.9 L419.3,341.2 L422.3,308.4 L425.2,319.3 L427.4,312.8 L429.6,325.9 L432.4,317.1 L435.0,321.5 L437.2,298.6 L439.4,312.8 L441.1,328.1 L442.7,317.1 L444.9,308.4 L447.0,304.0 L449.2,310.6 L451.4,328.1 L453.6,345.5 L455.1,310.6 L457.3,286.5 L459.1,269.0 L461.2,264.7 L463.4,275.6 L465.6,260.3 L467.8,254.8 L469.6,252.7 L471.1,262.5 L473.3,282.2 L475.5,275.6 L477.0,315.0 L478.7,299.6 L480.9,308.4 L483.1,301.8 L485.3,280.0 L487.5,288.7 L489.7,282.2 L491.2,280.0" fill="none" stroke="#444" stroke-width="0.85" stroke-linejoin="round"/>
<path d="M95.7,313.3 C96.2,313.4 97.5,313.6 98.4,314.2 C99.3,314.8 99.9,317.5 101.1,316.9 C102.3,316.3 104.0,313.3 105.7,310.6 C107.4,307.9 109.3,302.6 111.1,300.5 C112.9,298.4 115.0,299.2 116.6,297.8 C118.2,296.4 119.1,292.3 120.6,292.3 C122.1,292.3 123.6,294.9 125.7,297.8 C127.8,300.7 130.9,306.6 133.0,309.6 C135.1,312.6 136.7,314.0 138.5,316.0 C140.3,318.0 142.1,321.5 143.9,321.5 C145.7,321.5 147.7,317.4 149.4,316.0 C151.1,314.6 152.5,314.1 154.0,313.3 C155.5,312.6 156.8,312.6 158.5,311.5 C160.2,310.4 162.2,308.4 164.0,306.9 C165.8,305.4 167.3,304.2 169.4,302.4 C171.5,300.6 174.9,297.7 176.7,296.0 C178.5,294.3 178.8,292.8 180.0,292.3 C181.2,291.9 182.2,293.8 183.6,293.3 C185.0,292.9 186.7,290.8 188.2,289.6 C189.7,288.4 191.1,287.1 192.8,286.0 C194.5,284.9 196.5,284.4 198.2,283.2 C199.9,282.0 201.3,279.9 202.8,278.7 C204.3,277.5 205.8,275.3 207.3,275.9 C208.8,276.5 210.2,279.6 211.9,282.3 C213.6,285.0 215.5,289.3 217.3,292.3 C219.1,295.3 221.1,299.7 222.8,300.5 C224.5,301.3 225.4,299.3 227.4,296.9 C229.4,294.5 232.2,289.6 234.6,286.0 C237.0,282.4 240.1,276.8 241.9,275.0 C243.7,273.2 243.8,273.8 245.6,275.0 C247.4,276.2 250.5,279.2 252.9,282.3 C255.3,285.4 258.0,291.0 260.1,293.3 C262.2,295.6 264.1,295.9 265.6,296.0 C267.1,296.1 267.8,294.1 269.3,294.2 C270.8,294.3 273.2,295.7 274.7,296.9 C276.1,298.1 276.5,299.3 278.0,301.4 C279.5,303.5 282.0,306.4 283.5,309.6 C285.0,312.8 286.1,316.8 287.1,320.6 C288.2,324.4 288.6,330.1 289.8,332.4 C291.0,334.7 293.0,334.0 294.4,334.2 C295.8,334.4 296.8,334.4 298.0,333.3 C299.2,332.2 300.5,330.9 301.7,327.9 C302.9,324.9 303.9,320.0 305.3,315.1 C306.7,310.2 308.4,302.6 309.9,298.7 C311.4,294.8 313.2,292.5 314.4,291.4 C315.6,290.3 316.0,292.8 317.2,292.3 C318.4,291.9 320.0,289.4 321.7,288.7 C323.4,287.9 325.4,287.6 327.2,287.8 C329.0,288.0 330.5,289.2 332.6,289.6 C334.7,290.0 337.8,289.6 339.9,290.0 C342.0,290.4 343.6,291.3 345.4,292.3 C347.2,293.3 349.1,295.4 350.9,296.0 C352.7,296.6 354.5,296.1 356.3,296.0 C358.1,295.9 360.0,294.9 361.8,295.4 C363.6,295.8 365.5,296.6 367.3,298.7 C369.1,300.8 370.9,305.4 372.7,307.8 C374.5,310.2 376.2,311.9 378.0,313.3 C379.8,314.7 381.8,316.4 383.7,316.0 C385.6,315.6 387.3,311.1 389.1,310.6 C390.9,310.1 392.8,311.0 394.6,312.8 C396.4,314.6 398.0,319.7 400.0,321.5 C402.0,323.3 404.8,323.1 406.6,323.7 C408.4,324.2 409.2,325.5 411.0,324.8 C412.8,324.1 415.3,320.8 417.5,319.3 C419.7,317.8 421.9,316.6 424.1,316.0 C426.3,315.4 428.4,316.1 430.6,316.0 C432.8,315.9 435.2,315.6 437.2,315.4 C439.2,315.2 441.2,314.5 442.7,315.0 C444.2,315.5 444.7,318.9 446.0,318.2 C447.3,317.5 448.9,314.1 450.3,310.6 C451.8,307.2 453.2,302.2 454.7,297.5 C456.2,292.8 457.7,286.9 459.1,282.2 C460.6,277.4 462.4,271.6 463.4,269.0 C464.4,266.4 464.5,266.2 465.2,266.4 C465.9,266.6 466.6,268.2 467.8,270.1 C469.0,272.0 470.8,275.1 472.2,277.8 C473.6,280.5 475.2,284.1 476.5,286.5 C477.8,288.9 478.9,290.9 479.8,292.0 C480.7,293.1 481.6,292.9 482.0,293.1" fill="none" stroke="#000" stroke-width="1.9" stroke-linejoin="round"/>
<line x1="81.9" y1="237.2" x2="81.9" y2="362" stroke="#2a2a2a" stroke-width="1.8"/><line x1="81" y1="250.0" x2="88.4" y2="250.0" stroke="#2a2a2a" stroke-width="1.7"/><line x1="81" y1="237.53" x2="85.8" y2="237.53" stroke="#2a2a2a" stroke-width="1.7"/><text x="74" y="254.3" font-size="12.5" fill="#333" text-anchor="end" font-weight="normal">2</text><line x1="81" y1="274.93" x2="88.4" y2="274.93" stroke="#2a2a2a" stroke-width="1.7"/><line x1="81" y1="262.46" x2="85.8" y2="262.46" stroke="#2a2a2a" stroke-width="1.7"/><text x="74" y="279.23" font-size="12.5" fill="#333" text-anchor="end" font-weight="normal">1</text><line x1="81" y1="299.86" x2="88.4" y2="299.86" stroke="#2a2a2a" stroke-width="1.7"/><line x1="81" y1="287.39" x2="85.8" y2="287.39" stroke="#2a2a2a" stroke-width="1.7"/><text x="74" y="304.16" font-size="12.5" fill="#333" text-anchor="end" font-weight="normal">0</text><line x1="81" y1="324.78999999999996" x2="88.4" y2="324.78999999999996" stroke="#2a2a2a" stroke-width="1.7"/><line x1="81" y1="312.31999999999994" x2="85.8" y2="312.31999999999994" stroke="#2a2a2a" stroke-width="1.7"/><text x="74" y="329.09" font-size="12.5" fill="#333" text-anchor="end" font-weight="normal">-1</text><line x1="81" y1="349.72" x2="88.4" y2="349.72" stroke="#2a2a2a" stroke-width="1.7"/><line x1="81" y1="337.25" x2="85.8" y2="337.25" stroke="#2a2a2a" stroke-width="1.7"/><text x="74" y="354.02000000000004" font-size="12.5" fill="#333" text-anchor="end" font-weight="normal">-2</text><line x1="81" y1="362.19000000000005" x2="85.8" y2="362.19000000000005" stroke="#2a2a2a" stroke-width="1.7"/>
<path d="M102.6,235.0 V240.8 M102.6,236.5 H134.5 M134.5,235.0 V240.8" stroke="#862A96" stroke-width="1.6" fill="none"/><path d="M148,235.0 V240.8 M148,236.5 H176.2 M176.2,235.0 V240.8" stroke="#862A96" stroke-width="1.6" fill="none"/><path d="M197.4,235.0 V240.8 M197.4,236.5 H207 M207,235.0 V240.8" stroke="#862A96" stroke-width="1.6" fill="none"/><path d="M248.1,235.0 V240.8 M248.1,236.5 H266.6 M266.6,235.0 V240.8" stroke="#862A96" stroke-width="1.6" fill="none"/><path d="M281,235.0 V240.8 M281,236.5 H333.7 M333.7,235.0 V240.8" stroke="#862A96" stroke-width="1.6" fill="none"/><path d="M359.6,235.0 V240.8 M359.6,236.5 H376.2 M376.2,235.0 V240.8" stroke="#862A96" stroke-width="1.6" fill="none"/><path d="M431.1,235.0 V240.8 M431.1,236.5 H462.7 M462.7,235.0 V240.8" stroke="#862A96" stroke-width="1.6" fill="none"/><path d="M110.7,240.4 V248.5 M110.7,244.0 H132.5 M132.5,240.4 V248.5" stroke="#862A96" stroke-width="1.6" fill="none"/><path d="M158,240.4 V248.5 M158,244.0 H183.2 M183.2,240.4 V248.5" stroke="#862A96" stroke-width="1.6" fill="none"/><path d="M217,240.4 V248.5 M217,244.0 H243.1 M243.1,240.4 V248.5" stroke="#862A96" stroke-width="1.6" fill="none"/><path d="M266.6,240.4 V248.5 M266.6,244.0 H288 M288,240.4 V248.5" stroke="#862A96" stroke-width="1.6" fill="none"/><path d="M296.7,240.4 V248.5 M296.7,244.0 H338.1 M338.1,240.4 V248.5" stroke="#862A96" stroke-width="1.6" fill="none"/><path d="M400,240.4 V248.5 M400,244.0 H427 M427,240.4 V248.5" stroke="#862A96" stroke-width="1.6" fill="none"/><path d="M439.1,240.4 V248.5 M439.1,244.0 H466.3 M466.3,240.4 V248.5" stroke="#862A96" stroke-width="1.6" fill="none"/><path d="M84,251.1 H102.4 V248" stroke="#862A96" stroke-width="1.6" fill="none"/><path d="M117.7,248.3 V251.1 H157.8 V248.3" stroke="#862A96" stroke-width="1.6" fill="none"/><path d="M184,248.3 V251.1 H205.6 V248.3" stroke="#862A96" stroke-width="1.6" fill="none"/><path d="M226.7,248.3 V251.1 H252.1 V248.3" stroke="#862A96" stroke-width="1.6" fill="none"/><path d="M274.2,248.3 V251.1 H305.7 V248.3" stroke="#862A96" stroke-width="1.6" fill="none"/><path d="M320.5,248.3 V251.1 H351.2 V248.3" stroke="#862A96" stroke-width="1.6" fill="none"/><path d="M409.9,248.3 V251.1 H434.7 V248.3" stroke="#862A96" stroke-width="1.6" fill="none"/><path d="M453.9,248.3 V251.1 H472.2 V248.3" stroke="#862A96" stroke-width="1.6" fill="none"/>
<text transform="translate(29.1,300.5) rotate(-90)" x="0" y="0" font-size="15" fill="#222" text-anchor="middle" dominant-baseline="central">Cha2-GP5 δ<tspan font-size="9.5" dy="-5">18</tspan><tspan dy="5">O</tspan></text>
<text transform="translate(49.4,300.6) rotate(-90)" x="0" y="0" font-size="16" fill="#222" text-anchor="middle" dominant-baseline="central" textLength="72" lengthAdjust="spacingAndGlyphs">composite</text>
<text x="91.8" y="274.4" font-size="16" fill="#1a1a1a" text-anchor="start" font-weight="normal" textLength="20" lengthAdjust="spacingAndGlyphs">(d)</text>
<text x="92.9" y="353.7" font-size="16" fill="#1a1a1a" text-anchor="start" font-weight="normal" textLength="18.2" lengthAdjust="spacingAndGlyphs">(c)</text>
<path d="M86.6,390.7 L87.7,394.9 L88.7,395.7 L89.8,389.1 L90.9,376.7 L92.6,382.4 L94.2,391.4 L95.5,396.1 L96.8,404.5 L97.7,399.3 L98.6,392.5 L100.2,393.0 L101.9,385.9 L103.5,381.4 L105.1,375.0 L106.8,381.0 L108.4,392.0 L110.3,376.4 L112.3,364.0 L113.9,361.9 L115.6,359.1 L117.2,356.4 L119.3,357.5 L120.7,384.8 L121.5,376.0 L123.2,376.5 L124.8,372.8 L126.7,376.1 L128.5,379.3 L130.5,375.3 L132.5,372.8 L134.1,377.8 L135.7,383.7 L137.9,394.8 L140.1,405.1 L142.3,403.8 L143.7,393.9 L145.1,387.0 L146.4,388.2 L147.8,389.2 L148.9,396.9 L150.0,403.4 L151.6,401.6 L153.2,392.5 L155.4,389.1 L157.6,385.9 L159.0,382.1 L160.4,373.9 L161.8,377.7 L163.1,385.9 L165.1,390.9 L167.0,392.0 L168.3,389.9 L169.6,387.0 L171.2,370.1 L172.9,355.3 L174.0,361.9 L175.1,368.4 L176.2,378.1 L177.3,383.7 L178.4,386.9 L179.5,391.4 L181.0,369.5 L184.1,370.7 L187.1,367.3 L189.3,368.5 L191.5,363.0 L194.1,370.8 L196.6,371.5 L198.8,366.9 L200.9,355.1 L203.1,356.3 L205.3,362.8 L209.2,356.0 L213.0,347.5 L214.5,348.6 L217.6,358.7 L220.6,371.5 L221.7,362.3 L222.8,378.9 L223.9,391.2 L225.6,389.8 L227.2,387.9 L228.2,382.5 L229.3,375.9 L230.7,382.2 L232.0,386.4 L233.9,368.5 L235.9,353.0 L238.7,351.1 L241.4,348.6 L243.6,349.8 L245.7,354.0 L247.3,356.6 L249.0,350.1 L250.7,358.8 L252.3,369.3 L253.4,364.5 L254.5,359.5 L256.7,365.1 L258.9,378.1 L260.3,367.3 L261.7,362.8 L263.5,372.5 L265.4,385.7 L268.1,380.4 L270.9,371.5 L271.8,376.5 L272.6,378.1 L273.9,367.8 L275.2,356.2 L276.9,363.1 L278.5,372.6 L279.6,373.7 L280.0,372.8 L281.6,385.6 L283.3,390.3 L285.0,385.4 L286.6,384.8 L287.9,394.0 L289.2,406.7 L290.6,401.3 L292.0,393.6 L294.8,410.1 L297.5,430.7 L299.1,426.5 L300.8,420.9 L301.9,408.3 L303.0,391.4 L304.4,391.9 L305.8,392.5 L307.1,384.7 L308.4,375.0 L309.5,380.6 L310.6,385.9 L312.8,373.6 L315.0,364.0 L315.9,361.6 L316.7,372.8 L318.4,359.1 L320.0,350.5 L321.3,359.5 L322.6,368.4 L324.2,373.1 L325.9,384.8 L328.9,374.9 L332.0,367.3 L333.9,370.6 L335.7,372.8 L336.8,371.4 L337.9,364.0 L339.0,368.3 L340.1,378.3 L341.2,368.5 L342.3,360.8 L343.4,385.9 L345.6,384.3 L347.8,381.5 L348.9,376.7 L349.9,369.5 L351.0,371.5 L352.1,379.3 L353.8,380.2 L355.4,372.8 L357.0,374.4 L358.7,379.3 L360.4,380.1 L362.0,376.0 L363.4,381.1 L364.8,387.0 L366.6,379.8 L368.5,370.6 L370.1,375.9 L371.8,373.9 L374.0,379.9 L376.2,382.6 L377.5,390.6 L378.8,397.9 L380.2,392.5 L381.6,391.4 L383.2,390.1 L384.9,391.4 L387.1,380.2 L389.3,375.0 L390.4,388.2 L391.5,392.5 L392.8,380.3 L394.1,374.6 L396.1,375.7 L398.2,387.9 L399.7,403.3 L401.2,411.5 L402.2,409.7 L403.3,402.2 L404.9,409.7 L406.4,418.6 L408.4,413.3 L410.4,404.3 L412.7,388.3 L415.0,375.7 L416.8,395.0 L418.6,416.6 L420.1,402.4 L421.7,385.9 L422.7,391.4 L423.7,395.1 L425.2,391.6 L426.8,390.0 L427.8,406.3 L428.9,397.2 L429.9,380.8 L430.9,392.2 L431.9,400.2 L433.9,388.3 L436.0,375.7 L438.1,387.5 L440.1,404.3 L441.6,397.5 L443.2,390.0 L444.7,385.3 L446.2,381.8 L447.8,386.3 L449.3,391.0 L450.9,408.2 L452.4,421.7 L453.4,408.8 L454.4,398.2 L455.9,375.3 L457.5,351.1 L459.1,351.9 L460.6,349.1 L462.1,349.4 L463.6,348.1 L464.6,351.1 L465.7,344.0 L466.9,330.0 L468.1,323.5 L469.5,332.1 L470.8,340.9 L472.1,349.6 L473.4,363.4 L474.9,361.3 L476.3,353.2" fill="none" stroke="#F01818" stroke-width="1.0"/>
<line x1="490.8" y1="315" x2="490.8" y2="441.4" stroke="#FF0000" stroke-width="1.7"/><line x1="483.8" y1="316.2" x2="491.6" y2="316.2" stroke="#FF0000" stroke-width="1.7"/><line x1="487" y1="331.8" x2="491.6" y2="331.8" stroke="#FF0000" stroke-width="1.7"/><text x="498.6" y="320.7" font-size="12.5" fill="#FF0000" text-anchor="start" font-weight="normal">4</text><line x1="483.8" y1="347.41999999999996" x2="491.6" y2="347.41999999999996" stroke="#FF0000" stroke-width="1.7"/><line x1="487" y1="363.02" x2="491.6" y2="363.02" stroke="#FF0000" stroke-width="1.7"/><text x="498.6" y="351.91999999999996" font-size="12.5" fill="#FF0000" text-anchor="start" font-weight="normal">2</text><line x1="483.8" y1="378.64" x2="491.6" y2="378.64" stroke="#FF0000" stroke-width="1.7"/><line x1="487" y1="394.24" x2="491.6" y2="394.24" stroke="#FF0000" stroke-width="1.7"/><text x="498.6" y="383.14" font-size="12.5" fill="#FF0000" text-anchor="start" font-weight="normal">0</text><line x1="483.8" y1="409.86" x2="491.6" y2="409.86" stroke="#FF0000" stroke-width="1.7"/><line x1="487" y1="425.46000000000004" x2="491.6" y2="425.46000000000004" stroke="#FF0000" stroke-width="1.7"/><text x="497.5" y="414.36" font-size="12.5" fill="#FF0000" text-anchor="start" font-weight="normal">-2</text><line x1="483.8" y1="441.08" x2="491.6" y2="441.08" stroke="#FF0000" stroke-width="1.7"/><text x="497.5" y="445.58" font-size="12.5" fill="#FF0000" text-anchor="start" font-weight="normal">-4</text>
<text transform="translate(526.4,379.3) rotate(90)" x="0" y="0" font-size="16" fill="#FF0000" text-anchor="middle" dominant-baseline="central" textLength="110" lengthAdjust="spacingAndGlyphs">Cha2-GP5 (PC1)</text>
<path d="M86.6,442.3 L90.9,445.0 L93.1,449.3 L95.3,453.7 L100.3,454.8" fill="none" stroke="#2a2a2a" stroke-width="0.9"/>
<path d="M112.8,429.2 L116.6,431.2 L120.4,430.8 L121.5,453.7 L122.0,430.8 L124.0,439.7 L125.9,449.3 L127.5,458.9 L129.2,452.6 L130.8,449.4 L132.5,443.9 L137.4,455.2 L142.3,465.7 L144.5,460.7 L146.7,453.7 L148.8,457.5 L151.0,463.6 L153.2,458.7 L155.4,457.0 L157.9,452.2 L160.4,445.0 L162.3,453.3 L164.2,463.6 L165.2,461.6 L166.3,455.9 L167.9,457.1 L169.6,459.2 L171.8,446.3 L174.0,441.7 L177.1,455.6 L180.1,475.6 L181.2,455.0 L182.3,438.4 L183.6,432.7 L184.9,436.2 L187.1,436.6 L189.3,437.3 L191.5,445.9 L193.7,455.9 L195.3,458.1 L196.9,455.9 L198.4,445.7 L200.0,439.5 L201.4,434.5 L203.9,439.7 L206.4,445.9 L208.1,442.6 L209.7,436.7 L211.8,437.3 L214.0,434.5 L215.7,437.3 L217.3,444.8 L218.9,451.6 L220.6,451.4 L221.7,432.8 L222.3,461.2 L223.4,463.1 L224.5,467.8 L225.6,467.3 L226.7,461.2 L228.2,451.2 L229.8,442.6 L231.2,454.2 L232.6,467.8 L233.7,447.0 L235.3,440.3 L237.0,439.3 L239.2,433.6 L241.4,428.4 L243.0,436.7 L244.6,433.9 L247.1,430.2 L249.5,429.5 L251.2,446.7 L253.0,456.8 L254.3,451.7 L255.6,440.4 L257.6,446.6 L259.5,454.6 L260.8,445.2 L262.1,430.6 L264.1,448.0 L266.1,459.0 L267.6,452.9 L269.1,448.1 L270.9,453.4 L272.6,461.2 L273.9,447.9 L275.2,429.5 L276.9,440.7 L278.5,450.3 L280.7,449.2 L282.4,461.8 L284.0,464.5 L285.6,458.4 L287.3,450.3 L288.4,460.2 L289.5,475.4 L291.1,462.2 L292.7,449.2 L295.1,463.4 L297.5,483.1 L299.5,478.3 L301.5,470.0 L303.5,473.2 L305.5,473.2 L306.9,460.3 L308.3,449.2 L310.1,451.5 L312.0,457.9 L313.4,458.9 L314.9,455.7 L316.2,462.0 L317.5,470.0 L319.1,462.4 L320.8,449.2 L323.5,453.5 L326.2,462.3 L328.9,450.2 L331.7,439.3 L333.4,441.3 L335.0,445.9 L336.3,433.1 L337.6,425.1 L338.5,441.8 L339.3,445.9 L340.4,453.6 L341.3,446.5 L342.2,431.7 L343.7,463.4 L345.4,455.4 L347.0,450.3 L348.4,447.7 L349.8,441.5 L351.1,444.4 L352.5,455.7 L353.8,453.2 L355.1,444.8 L356.5,451.7 L357.9,453.6 L359.5,450.6 L361.2,449.2 L363.1,456.0 L365.1,464.5 L366.6,454.1 L368.2,442.6 L370.1,445.9 L372.1,447.0 L373.8,451.6 L375.4,457.9 L377.2,465.8 L379.1,477.6 L380.9,473.0 L382.6,469.5 L384.1,468.2 L385.7,468.9 L387.6,460.9 L389.6,449.2 L390.7,460.3 L391.8,471.0 L393.5,465.6 L395.1,459.0 L396.5,462.8 L397.9,474.3 L398.7,465.2 L399.5,457.9 L401.1,466.8 L402.7,477.4 L404.0,470.1 L405.2,480.3 L406.4,492.9 L408.2,481.7 L410.0,471.0 L413.0,461.7 L416.0,453.7 L417.6,470.7 L419.1,494.7 L420.5,479.1 L421.9,459.2 L422.9,466.3 L424.0,469.2 L426.4,468.3 L427.3,475.8 L428.2,485.6 L429.1,467.5 L430.1,446.4 L431.5,461.6 L432.8,481.1 L434.6,461.8 L436.4,448.3 L438.7,467.4 L441.0,487.4 L441.9,480.1 L442.8,465.6 L443.7,471.3 L444.6,477.4 L445.8,463.0 L447.0,455.6 L448.8,460.3 L450.6,463.8 L451.9,482.5 L453.2,503.8 L454.4,484.9 L455.6,469.2 L457.4,454.1 L459.2,437.3 L461.0,437.0 L462.8,444.6 L463.8,434.2 L464.7,431.9 L465.6,448.3 L467.2,426.3 L468.9,410.9 L470.4,429.0 L471.9,441.9 L472.9,438.1 L473.8,433.7 L475.0,423.7 L476.1,416.4" fill="none" stroke="#2a2a2a" stroke-width="0.9"/>
<line x1="61.0" y1="377.9" x2="61.0" y2="505.1" stroke="#333" stroke-width="1.8"/><line x1="60.1" y1="378.7" x2="68.4" y2="378.7" stroke="#333" stroke-width="1.7"/><line x1="60.1" y1="399.59999999999997" x2="65.3" y2="399.59999999999997" stroke="#333" stroke-width="1.7"/><text x="53.5" y="383.9" font-size="13.9" fill="#595959" text-anchor="end" font-weight="normal" textLength="22.4" lengthAdjust="spacingAndGlyphs">-4.5</text><line x1="60.1" y1="420.57" x2="68.4" y2="420.57" stroke="#333" stroke-width="1.7"/><line x1="60.1" y1="441.46999999999997" x2="65.3" y2="441.46999999999997" stroke="#333" stroke-width="1.7"/><text x="53.5" y="425.77" font-size="13.9" fill="#595959" text-anchor="end" font-weight="normal" textLength="22.4" lengthAdjust="spacingAndGlyphs">-5.0</text><line x1="60.1" y1="462.44" x2="68.4" y2="462.44" stroke="#333" stroke-width="1.7"/><line x1="60.1" y1="483.34" x2="65.3" y2="483.34" stroke="#333" stroke-width="1.7"/><text x="53.5" y="467.64" font-size="13.9" fill="#595959" text-anchor="end" font-weight="normal" textLength="22.4" lengthAdjust="spacingAndGlyphs">-5.5</text><line x1="60.1" y1="504.30999999999995" x2="68.4" y2="504.30999999999995" stroke="#333" stroke-width="1.7"/><text x="53.5" y="509.50999999999993" font-size="13.9" fill="#595959" text-anchor="end" font-weight="normal" textLength="22.4" lengthAdjust="spacingAndGlyphs">-6.0</text>
<text transform="translate(10.5,440) rotate(-90)" x="0" y="0" font-size="15" fill="#333" text-anchor="middle" dominant-baseline="central">GP5 δ<tspan font-size="9.5" dy="-5">18</tspan><tspan dy="5">O (‰ VPDB)</tspan></text>
<text x="92.9" y="432.9" font-size="16" fill="#1a1a1a" text-anchor="start" font-weight="normal" textLength="19.6" lengthAdjust="spacingAndGlyphs">(b)</text>
<path d="M79.9,507.9 V516.1 M79.9,512 H85.9 M85.9,507.9 V516.1" stroke="#111" stroke-width="1.6" fill="none"/><path d="M106.9,507.9 V516.1 M106.9,512 H121.8 M121.8,507.9 V516.1" stroke="#111" stroke-width="1.6" fill="none"/><path d="M149,507.9 V516.1 M149,512 H155.5 M155.5,507.9 V516.1" stroke="#111" stroke-width="1.6" fill="none"/><path d="M169.8,507.9 V516.1 M169.8,512 H176.5 M176.5,507.9 V516.1" stroke="#111" stroke-width="1.6" fill="none"/><path d="M197.2,507.9 V516.1 M197.2,512 H203 M203,507.9 V516.1" stroke="#111" stroke-width="1.6" fill="none"/><path d="M215,507.9 V516.1 M215,512 H220 M220,507.9 V516.1" stroke="#111" stroke-width="1.6" fill="none"/><path d="M220.2,507.9 V516.1 M220.2,512 H225.6 M225.6,507.9 V516.1" stroke="#111" stroke-width="1.6" fill="none"/><path d="M230.6,507.9 V516.1 M230.6,512 H238.4 M238.4,507.9 V516.1" stroke="#111" stroke-width="1.6" fill="none"/><path d="M252,507.9 V516.1 M252,512 H262.5 M262.5,507.9 V516.1" stroke="#111" stroke-width="1.6" fill="none"/><path d="M275,507.9 V516.1 M275,512 H280 M280,507.9 V516.1" stroke="#111" stroke-width="1.6" fill="none"/><path d="M309.3,507.9 V516.1 M309.3,512 H313.1 M313.1,507.9 V516.1" stroke="#111" stroke-width="1.6" fill="none"/><path d="M345.6,507.9 V516.1 M345.6,512 H349.5 M349.5,507.9 V516.1" stroke="#111" stroke-width="1.6" fill="none"/><path d="M362.2,507.9 V516.1 M362.2,512 H367.3 M367.3,507.9 V516.1" stroke="#111" stroke-width="1.6" fill="none"/><path d="M392.3,507.9 V516.1 M392.3,512 H404.2 M404.2,507.9 V516.1" stroke="#111" stroke-width="1.6" fill="none"/><path d="M422.8,507.9 V516.1 M422.8,512 H427 M427,507.9 V516.1" stroke="#111" stroke-width="1.6" fill="none"/><path d="M427.8,507.9 V516.1 M427.8,512 H431.5 M431.5,507.9 V516.1" stroke="#111" stroke-width="1.6" fill="none"/><path d="M432,507.9 V516.1 M432,512 H437.2 M437.2,507.9 V516.1" stroke="#111" stroke-width="1.6" fill="none"/><path d="M444.7,507.9 V516.1 M444.7,512 H454.7 M454.7,507.9 V516.1" stroke="#111" stroke-width="1.6" fill="none"/><path d="M209.8,506.6 V501.2 M209.8,501.9 H213.3 M213.3,501.2 V506.6" stroke="#111" stroke-width="1.5" fill="none"/><path d="M214.9,506.6 V501.2 M214.9,501.9 H220.0 M220.0,501.2 V506.6" stroke="#111" stroke-width="1.5" fill="none"/><path d="M220.0,506.6 V501.2 M220.0,501.9 H221.4 M221.4,501.2 V506.6" stroke="#111" stroke-width="1.5" fill="none"/><path d="M228.6,506.6 V501.2 M228.6,501.9 H232.4 M232.4,501.2 V506.6" stroke="#111" stroke-width="1.5" fill="none"/><path d="M83.7,621.5 V627.7 M83.7,624.6 H90.8 M90.8,621.5 V627.7" stroke="#111" stroke-width="1.6" fill="none"/><path d="M119.4,621.5 V627.7 M119.4,624.6 H129.6 M129.6,621.5 V627.7" stroke="#111" stroke-width="1.6" fill="none"/><path d="M152.4,621.5 V627.7 M152.4,624.6 H159.7 M159.7,621.5 V627.7" stroke="#111" stroke-width="1.6" fill="none"/><path d="M180.2,621.5 V627.7 M180.2,624.6 H183.8 M183.8,621.5 V627.7" stroke="#111" stroke-width="1.6" fill="none"/><path d="M196.4,621.5 V627.7 M196.4,624.6 H201.4 M201.4,621.5 V627.7" stroke="#111" stroke-width="1.6" fill="none"/><path d="M212.3,621.5 V627.7 M212.3,624.6 H223.7 M223.7,621.5 V627.7" stroke="#111" stroke-width="1.6" fill="none"/><path d="M259.4,621.5 V627.7 M259.4,624.6 H265.6 M265.6,621.5 V627.7" stroke="#111" stroke-width="1.6" fill="none"/><path d="M286.8,621.5 V627.7 M286.8,624.6 H292 M292,621.5 V627.7" stroke="#111" stroke-width="1.6" fill="none"/><path d="M317.1,621.5 V627.7 M317.1,624.6 H323.2 M323.2,621.5 V627.7" stroke="#111" stroke-width="1.6" fill="none"/><path d="M391.1,621.5 V627.7 M391.1,624.6 H393.8 M393.8,621.5 V627.7" stroke="#111" stroke-width="1.6" fill="none"/><path d="M407.8,621.5 V627.7 M407.8,624.6 H412.6 M412.6,621.5 V627.7" stroke="#111" stroke-width="1.6" fill="none"/><path d="M414.5,621.5 V627.7 M414.5,624.6 H419.4 M419.4,621.5 V627.7" stroke="#111" stroke-width="1.6" fill="none"/><path d="M421.5,621.5 V627.7 M421.5,624.6 H426.9 M426.9,621.5 V627.7" stroke="#111" stroke-width="1.6" fill="none"/><path d="M440.2,621.5 V627.7 M440.2,624.6 H443.8 M443.8,621.5 V627.7" stroke="#111" stroke-width="1.6" fill="none"/><path d="M463.9,621.5 V627.7 M463.9,624.6 H467.5 M467.5,621.5 V627.7" stroke="#111" stroke-width="1.6" fill="none"/><path d="M472.4,621.5 V627.7 M472.4,624.6 H479.2 M479.2,621.5 V627.7" stroke="#111" stroke-width="1.6" fill="none"/><path d="M290.2,631.5 V636.3 M290.2,633.9 H311.8 M311.8,631.5 V636.3" stroke="#111" stroke-width="1.5" fill="none"/>
<path d="M86.1,608.0 L87.3,610.3 L88.1,617.3 L88.9,610.3 L89.6,594.0 L90.4,577.7 L91.2,582.3 L92.8,582.9 L94.5,582.3 L95.4,598.7 L96.3,618.5 L97.1,599.8 L98.0,589.3 L99.2,582.3 L100.9,578.8 L102.4,576.5 L103.3,570.7 L104.1,560.2 L104.7,555.5 L105.6,568.3 L106.8,578.8 L108.5,591.7 L109.7,580.0 L110.8,568.9 L111.8,574.2 L112.6,580.0 L113.4,575.3 L114.6,567.8 L116.1,562.5 L117.8,560.2 L119.0,559.6 L120.2,577.7 L121.6,587.0 L122.5,599.8 L123.4,583.5 L124.3,566.0 L125.4,564.8 L127.2,566.6 L128.9,568.9 L130.7,569.5 L132.4,573.0 L134.2,578.3 L136.3,583.5 L137.9,591.7 L139.1,610.3" fill="none" stroke="#5a5a5a" stroke-width="0.9"/>
<path d="M142.9,584.8 L144.7,574.3 L145.8,579.5 L146.8,587.7 L147.9,579.5 L149.1,590.0 L149.9,599.3 L151.1,580.7 L152.8,586.5 L154.6,583.0 L156.3,577.2 L157.5,586.5 L158.1,593.5 L158.9,576.0 L159.8,570.2 L161.0,571.9 L162.2,570.2 L163.9,566.1" fill="none" stroke="#5a5a5a" stroke-width="0.9"/>
<path d="M166.6,587.7 L168.6,573.1 L169.8,577.2 L170.9,560.8 L171.7,548.0 L172.7,536.3 L173.3,548.0 L174.4,546.3 L175.6,556.2 L176.4,552.7 L177.6,559.7 L178.5,553.3 L179.7,553.8 L180.6,563.2 L182.0,569.0 L184.1,574.3 L187.8,564.9 L191.9,538.7 L197.2,549.8 L204.2,547.6 L211.9,533.0 L219.5,559.2 L228.3,578.2 L236.3,540.2 L244.6,549.3 L253.4,541.7 L262.1,577.8 L272.6,553.7 L281.8,564.6 L290.5,593.1 L297.4,623.7 L299.6,624.1 L303.2,554.8 L305.5,562.5 L307.9,563.6 L310.8,576.7 L313.6,534.0 L317.3,529.7 L319.5,516.1 L322.3,540.2 L324.5,538.4" fill="none" stroke="#5a5a5a" stroke-width="0.9"/>
<path d="M393.0,555.1 L395.6,539.1 L398.0,551.1 L400.4,597.2 L402.4,581.1 L409.6,586.2 L413.6,549.1 L416.0,565.1 L417.7,581.1 L419.1,568.1 L420.5,571.1 L426.1,563.7 L429.7,576.1 L432.5,561.1 L436.5,564.1 L445.1,563.1 L449.1,578.1 L452.1,574.1 L457.1,533.0 L465.2,518.0 L468.2,523.0 L471.2,536.1 L473.2,564.1 L476.2,576.1 L479.2,567.1 L482.2,568.1 L484.6,545.1 L485.8,546.1 L488.2,553.1 L490.2,549.1" fill="none" stroke="#5a5a5a" stroke-width="0.9"/>
<text x="93.6" y="547.9" font-size="16" fill="#1a1a1a" text-anchor="start" font-weight="normal" textLength="19.3" lengthAdjust="spacingAndGlyphs">(a)</text>
<line x1="490.7" y1="503.2" x2="490.7" y2="629.5" stroke="#333" stroke-width="1.8"/><line x1="483.6" y1="504.0" x2="491.6" y2="504.0" stroke="#333" stroke-width="1.7"/><line x1="486.3" y1="524.75" x2="491.6" y2="524.75" stroke="#333" stroke-width="1.7"/><text x="498.4" y="509.2" font-size="13.9" fill="#595959" text-anchor="start" font-weight="normal" textLength="22.4" lengthAdjust="spacingAndGlyphs">-4.5</text><line x1="483.6" y1="545.5" x2="491.6" y2="545.5" stroke="#333" stroke-width="1.7"/><line x1="486.3" y1="566.25" x2="491.6" y2="566.25" stroke="#333" stroke-width="1.7"/><text x="498.4" y="550.7" font-size="13.9" fill="#595959" text-anchor="start" font-weight="normal" textLength="22.4" lengthAdjust="spacingAndGlyphs">-5.0</text><line x1="483.6" y1="587.0" x2="491.6" y2="587.0" stroke="#333" stroke-width="1.7"/><line x1="486.3" y1="607.75" x2="491.6" y2="607.75" stroke="#333" stroke-width="1.7"/><text x="498.4" y="592.2" font-size="13.9" fill="#595959" text-anchor="start" font-weight="normal" textLength="22.4" lengthAdjust="spacingAndGlyphs">-5.5</text><line x1="483.6" y1="628.5" x2="491.6" y2="628.5" stroke="#333" stroke-width="1.7"/><text x="498.4" y="633.7" font-size="13.9" fill="#595959" text-anchor="start" font-weight="normal" textLength="22.4" lengthAdjust="spacingAndGlyphs">-6.0</text>
<text transform="translate(538,564) rotate(90)" x="0" y="0" font-size="15" fill="#333" text-anchor="middle" dominant-baseline="central">Cha2 δ<tspan font-size="9.5" dy="-5">18</tspan><tspan dy="5">O (‰ VPDB)</tspan></text>
<path d="M81.5,640.4 V643.0 H490.5 V636.5" stroke="#111" stroke-width="1.8" fill="none"/><line x1="118.8" y1="636.3" x2="118.8" y2="643" stroke="#111" stroke-width="1.7"/><text x="118.8" y="661.5" font-size="14.5" fill="#333" text-anchor="middle" font-weight="normal" textLength="28.9" lengthAdjust="spacingAndGlyphs">1000</text><line x1="156.0" y1="640.2" x2="156.0" y2="643" stroke="#111" stroke-width="1.7"/><line x1="193.1" y1="636.3" x2="193.1" y2="643" stroke="#111" stroke-width="1.7"/><text x="193.1" y="661.5" font-size="14.5" fill="#333" text-anchor="middle" font-weight="normal" textLength="28.9" lengthAdjust="spacingAndGlyphs">1200</text><line x1="230.3" y1="640.2" x2="230.3" y2="643" stroke="#111" stroke-width="1.7"/><line x1="267.5" y1="636.3" x2="267.5" y2="643" stroke="#111" stroke-width="1.7"/><text x="267.5" y="661.5" font-size="14.5" fill="#333" text-anchor="middle" font-weight="normal" textLength="28.9" lengthAdjust="spacingAndGlyphs">1400</text><line x1="304.6" y1="640.2" x2="304.6" y2="643" stroke="#111" stroke-width="1.7"/><line x1="341.8" y1="636.3" x2="341.8" y2="643" stroke="#111" stroke-width="1.7"/><text x="341.8" y="661.5" font-size="14.5" fill="#333" text-anchor="middle" font-weight="normal" textLength="28.9" lengthAdjust="spacingAndGlyphs">1600</text><line x1="379.0" y1="640.2" x2="379.0" y2="643" stroke="#111" stroke-width="1.7"/><line x1="416.2" y1="636.3" x2="416.2" y2="643" stroke="#111" stroke-width="1.7"/><text x="416.2" y="661.5" font-size="14.5" fill="#333" text-anchor="middle" font-weight="normal" textLength="28.9" lengthAdjust="spacingAndGlyphs">1800</text><line x1="453.3" y1="640.2" x2="453.3" y2="643" stroke="#111" stroke-width="1.7"/><line x1="490.5" y1="636.3" x2="490.5" y2="643" stroke="#111" stroke-width="1.7"/><text x="490.5" y="661.5" font-size="14.5" fill="#333" text-anchor="middle" font-weight="normal" textLength="28.9" lengthAdjust="spacingAndGlyphs">2000</text>
<text x="308.4" y="681.8" font-size="16.5" fill="#222" text-anchor="middle" font-weight="normal" textLength="69" lengthAdjust="spacingAndGlyphs">Years A.D.</text></svg></body></html>
